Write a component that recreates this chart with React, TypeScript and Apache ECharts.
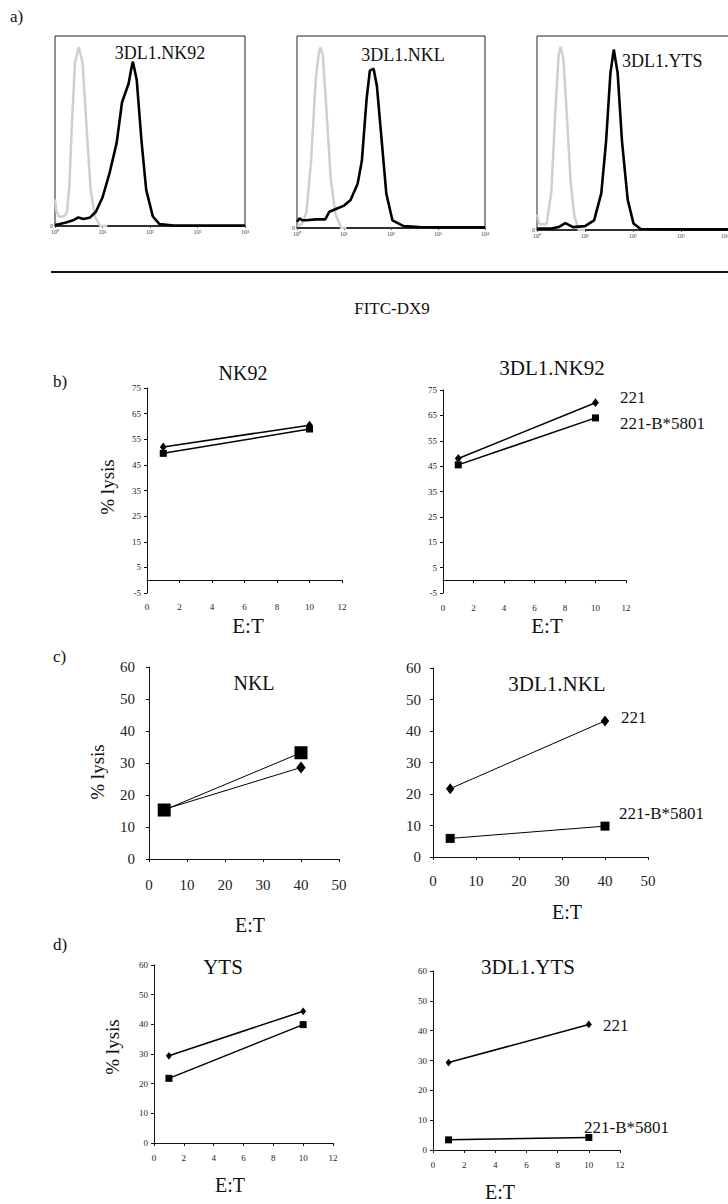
import React, { useEffect, useRef } from "react";
import * as echarts from "echarts";

// ---------- Data ----------
// Panel a: flow histograms (x in log decades 0..4, y in % of max count)
const histTickLabels = ["10⁰", "10¹", "10²", "10³", "10⁴"];
const histTitles = ["3DL1.NK92", "3DL1.NKL", "3DL1.YTS"];
const nk92Control = [[0,14],[0.03,8],[0.08,5],[0.18,5],[0.25,7],[0.3,20],[0.35,50],[0.42,86],[0.5,94],[0.58,86],[0.67,50],[0.75,19],[0.84,5],[0.95,0],[1.1,0]];
const nk92Stained = [[0,0.5],[0.1,1],[0.25,2],[0.38,3],[0.49,4.5],[0.6,3.7],[0.74,4.5],[0.86,7.5],[1.0,15],[1.15,28],[1.3,44],[1.41,65],[1.48,70],[1.55,75],[1.6,82],[1.64,86.5],[1.72,77],[1.82,45],[1.92,19],[2.06,5],[2.2,1],[2.5,0.3],[3,0.3],[4,0.3]];
const nklControl = [[0,1],[0.1,2],[0.2,8],[0.3,35],[0.4,78],[0.47,92],[0.5,94],[0.55,90],[0.63,60],[0.72,25],[0.82,7],[0.94,0],[1.05,0]];
const nklStained = [[0,3.3],[0.05,5],[0.12,4],[0.2,4],[0.4,4.5],[0.6,4.5],[0.69,8.5],[0.84,10],[0.99,11.5],[1.14,14.6],[1.29,23],[1.38,35],[1.48,67],[1.55,82],[1.63,83],[1.7,74],[1.8,46],[1.9,18],[2.03,4],[2.27,1],[2.6,0.5],[3,0.3],[4,0.3]];
const ytsControl = [[0,8],[0.05,3],[0.2,3],[0.3,20],[0.38,60],[0.45,90],[0.49,94.5],[0.55,88],[0.62,60],[0.7,25],[0.78,7],[0.87,0],[1,0]];
const ytsStained = [[0,0.7],[0.3,0.8],[0.45,1.5],[0.59,3.5],[0.75,1.5],[1.0,2],[1.19,5],[1.34,19],[1.44,46],[1.53,81],[1.6,93],[1.68,81],[1.77,46],[1.89,15.5],[2.01,3.4],[2.16,0.5],[3,0.3],[4,0.3]];

// Panels b-d: % lysis vs E:T
const etSmall = [1, 10];
const etLarge = [4, 40];
const nk92_221 = [52, 60.5];
const nk92_B5801 = [49.5, 59];
const dlNk92_221 = [48, 70];
const dlNk92_B5801 = [45.5, 64];
const nkl_221 = [15.5, 28.6];
const nkl_B5801 = [15.3, 33.2];
const dlNkl_221 = [21.7, 43.2];
const dlNkl_B5801 = [5.9, 9.8];
const yts_221 = [29.4, 44.4];
const yts_B5801 = [21.8, 39.9];
const dlYts_221 = [29.3, 42.1];
const dlYts_B5801 = [3.4, 4.2];
const targetNames = ["221", "221-B*5801"];

const FONT = "'Liberation Serif', 'Times New Roman', serif";

function pairs(xs: number[], ys: number[]) {
  return xs.map((x, i) => [x, ys[i]]);
}

export default function App() {
  const ref = useRef<HTMLDivElement>(null);
  useEffect(() => {
    if (!ref.current) return;
    const chart = echarts.init(ref.current, null, { renderer: "svg" });

    const grids: any[] = [
      { left: 55, top: 36, width: 190, height: 190 },
      { left: 297, top: 36, width: 188, height: 192 },
      { left: 537, top: 36, width: 192, height: 194 },
      { left: 147, top: 388, width: 195, height: 205 },
      { left: 443, top: 390, width: 183, height: 203 },
      { left: 149, top: 667, width: 190, height: 192 },
      { left: 433, top: 668, width: 215, height: 189 },
      { left: 154, top: 965, width: 179, height: 178 },
      { left: 433, top: 971, width: 187, height: 179 },
    ].map((g, i) => ({
      ...g,
      outerBoundsMode: "none",
      containLabel: false,
      show: i < 3,
      borderColor: "#222",
      borderWidth: 1,
      backgroundColor: "transparent",
    }));

    const xAxes: any[] = [];
    const yAxes: any[] = [];
    const series: any[] = [];

    // histograms
    const hists = [
      [nk92Control, nk92Stained],
      [nklControl, nklStained],
      [ytsControl, ytsStained],
    ];
    hists.forEach((h, i) => {
      xAxes.push({
        gridIndex: i, type: "value", min: 0, max: 4, interval: 1,
        axisLine: { show: true, lineStyle: { color: "#111", width: 1.5 } },
        axisTick: { show: true, length: 2, lineStyle: { color: "#555" } },
        splitLine: { show: false },
        axisLabel: { fontSize: 6, margin: 3, color: "#444", fontFamily: FONT,
          alignMaxLabel: i === 2 ? "right" : undefined,
          formatter: (v: number) => histTickLabels[Math.round(v)] },
      });
      yAxes.push({
        gridIndex: i, type: "value", min: 0, max: 100, interval: 100,
        axisLine: { show: false }, axisTick: { show: false }, splitLine: { show: false },
        axisLabel: { fontSize: 6, margin: 2, color: "#444", fontFamily: FONT,
          formatter: (v: number) => (v === 0 ? "0" : "") },
      });
      series.push({
        type: "line", xAxisIndex: i, yAxisIndex: i, data: h[0], showSymbol: false,
        lineStyle: { color: "#cfcfcf", width: 2.5 }, z: 2,
      });
      series.push({
        type: "line", xAxisIndex: i, yAxisIndex: i, data: h[1], showSymbol: false,
        lineStyle: { color: "#000", width: 2.6 }, z: 3,
      });
    });

    type P = {
      xs: number[]; a: number[]; b: number[]; xMax: number; xInt: number;
      yMin: number; yMax: number; yInt: number; fs: number; xm: number; ym: number;
      dia: number; sq: number; lw: number;
    };
    const panels: P[] = [
      { xs: etSmall, a: nk92_221, b: nk92_B5801, xMax: 12, xInt: 2, yMin: -5, yMax: 75, yInt: 10, fs: 9, xm: 9, ym: 6, dia: 8, sq: 7, lw: 1.5 },
      { xs: etSmall, a: dlNk92_221, b: dlNk92_B5801, xMax: 12, xInt: 2, yMin: -5, yMax: 75, yInt: 10, fs: 9, xm: 10, ym: 6, dia: 8, sq: 7, lw: 1.5 },
      { xs: etLarge, a: nkl_221, b: nkl_B5801, xMax: 50, xInt: 10, yMin: 0, yMax: 60, yInt: 10, fs: 15, xm: 18, ym: 14, dia: 11, sq: 13, lw: 1 },
      { xs: etLarge, a: dlNkl_221, b: dlNkl_B5801, xMax: 50, xInt: 10, yMin: 0, yMax: 60, yInt: 10, fs: 15, xm: 16, ym: 12, dia: 10, sq: 9, lw: 1 },
      { xs: etSmall, a: yts_221, b: yts_B5801, xMax: 12, xInt: 2, yMin: 0, yMax: 60, yInt: 10, fs: 9, xm: 10, ym: 6, dia: 7, sq: 7, lw: 1.5 },
      { xs: etSmall, a: dlYts_221, b: dlYts_B5801, xMax: 12, xInt: 2, yMin: 0, yMax: 60, yInt: 10, fs: 9, xm: 10, ym: 6, dia: 7, sq: 7, lw: 1.5 },
    ];
    panels.forEach((p, k) => {
      const gi = k + 3;
      const axisLine = { show: true, onZero: true, lineStyle: { color: "#111", width: 1 } };
      xAxes.push({
        gridIndex: gi, type: "value", min: 0, max: p.xMax, interval: p.xInt,
        axisLine, axisTick: { show: true, length: 3, lineStyle: { color: "#111" } },
        splitLine: { show: false },
        axisLabel: { fontSize: p.fs, margin: p.xm, color: "#222", fontFamily: FONT },
      });
      yAxes.push({
        gridIndex: gi, type: "value", min: p.yMin, max: p.yMax, interval: p.yInt,
        axisLine, axisTick: { show: true, length: 3, lineStyle: { color: "#111" } },
        splitLine: { show: false },
        axisLabel: { fontSize: p.fs, margin: p.ym, color: "#222", fontFamily: FONT },
      });
      series.push({
        type: "line", name: targetNames[1], xAxisIndex: gi, yAxisIndex: gi, data: pairs(p.xs, p.b),
        symbol: "rect", symbolSize: p.sq, showSymbol: true,
        itemStyle: { color: "#000" }, lineStyle: { color: "#000", width: p.lw },
      });
      series.push({
        type: "line", name: targetNames[0], xAxisIndex: gi, yAxisIndex: gi, data: pairs(p.xs, p.a),
        symbol: "diamond", symbolSize: [p.dia * 0.85, p.dia * 1.1], showSymbol: true,
        itemStyle: { color: "#000" }, lineStyle: { color: "#000", width: p.lw },
      });
    });

    const txt = (text: string, x: number, y: number, fontSize: number, align = "center", rotation = 0) => ({
      type: "text", x, y, rotation,
      style: { text, fontSize, fontFamily: FONT, fill: "#111", align, verticalAlign: "middle" },
    });

    const graphic: any[] = [
      txt("a)", 10, 16, 17, "left"),
      txt(histTitles[0], 160, 53, 18),
      txt(histTitles[1], 403, 55, 18),
      txt(histTitles[2], 622, 61, 18, "left"),
      { type: "line", shape: { x1: 51, y1: 272, x2: 728, y2: 272 }, style: { stroke: "#111", lineWidth: 2 } },
      txt("FITC-DX9", 392, 308, 17),
      txt("b)", 53, 381, 17, "left"),
      txt("c)", 53, 656, 17, "left"),
      txt("d)", 53, 944, 17, "left"),
      txt("NK92", 243, 373, 20),
      txt("3DL1.NK92", 552, 368, 21),
      txt("NKL", 254, 683, 20),
      txt("3DL1.NKL", 557, 684, 21),
      txt("YTS", 223, 967, 21),
      txt("3DL1.YTS", 528, 967, 21),
      txt("% lysis", 107, 487, 19, "center", Math.PI / 2),
      txt("% lysis", 97, 772, 19, "center", Math.PI / 2),
      txt("% lysis", 112, 1047, 19, "center", Math.PI / 2),
      txt("E:T", 248, 626, 21),
      txt("E:T", 547, 626, 21),
      txt("E:T", 250, 925, 20),
      txt("E:T", 567, 912, 20),
      txt("E:T", 230, 1185, 20),
      txt("E:T", 500, 1192, 20),
      txt(targetNames[0], 620, 397, 17, "left"),
      txt(targetNames[1], 620, 423, 17, "left"),
      txt(targetNames[0], 621, 717, 17, "left"),
      txt(targetNames[1], 619, 813, 17, "left"),
      txt(targetNames[0], 603, 1025, 17, "left"),
      txt(targetNames[1], 584, 1127, 17, "left"),
    ];

    chart.setOption({
      animation: false,
      backgroundColor: "#fff",
      textStyle: { fontFamily: FONT },
      grid: grids,
      xAxis: xAxes,
      yAxis: yAxes,
      series,
      graphic,
    });
    return () => chart.dispose();
  }, []);
  return <div ref={ref} style={{ position: "absolute", left: 0, top: 0, width: 728, height: 1204 }} />;
}
